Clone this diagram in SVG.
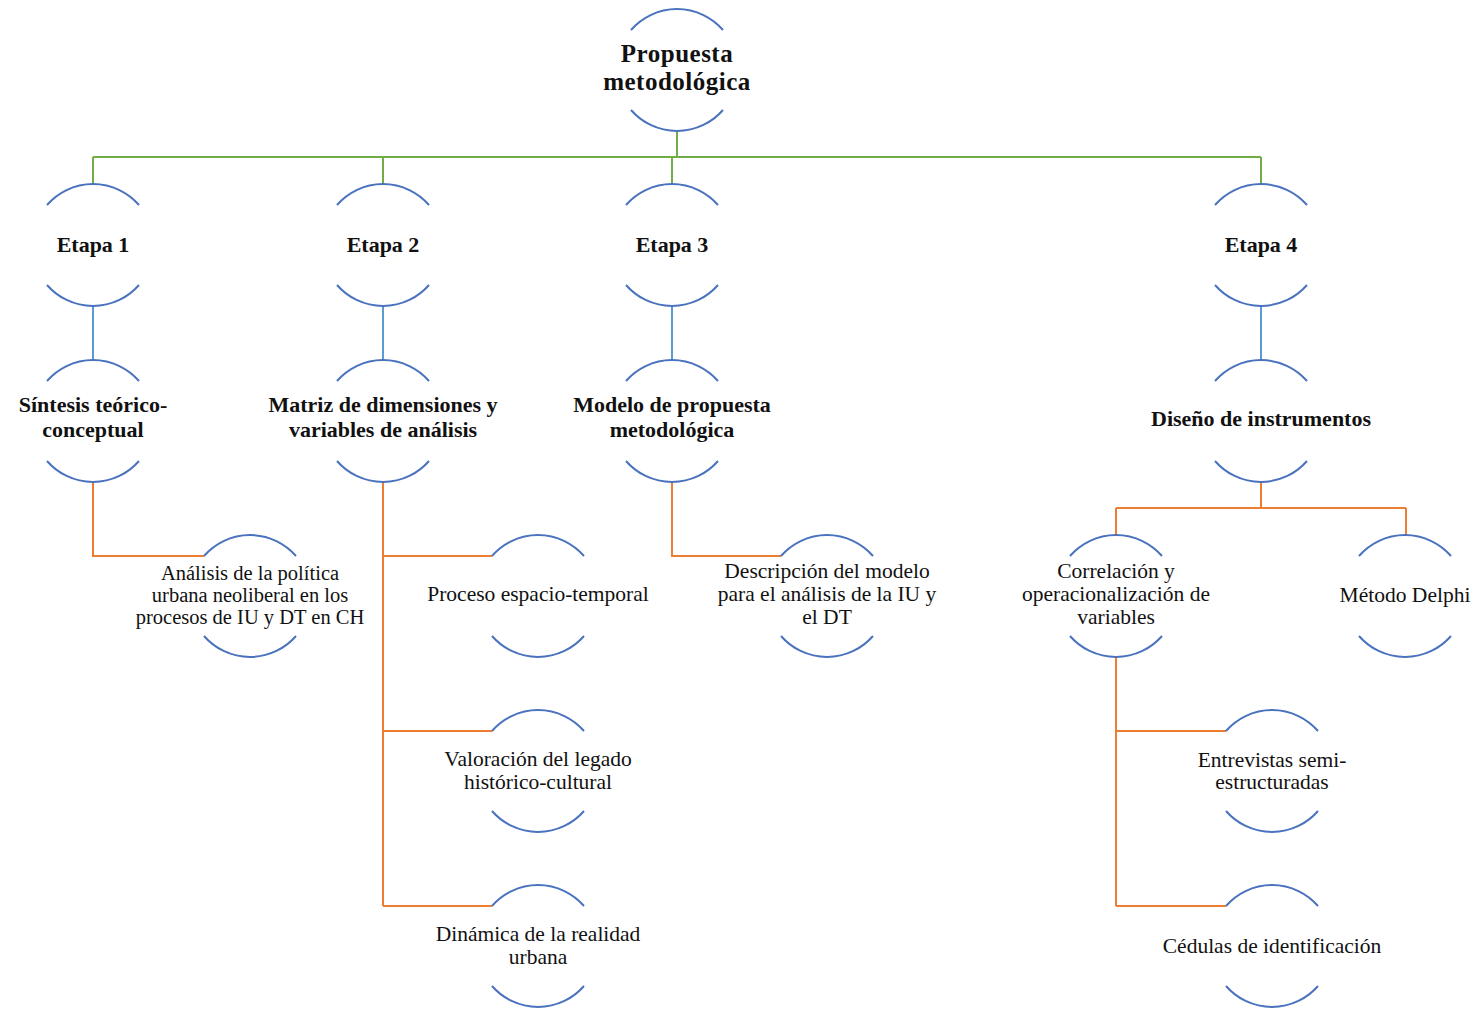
<svg xmlns="http://www.w3.org/2000/svg" width="1479" height="1010" viewBox="0 0 1479 1010">
<style>
.arc{fill:none;stroke:#4A72BE;stroke-width:2}
.green{fill:none;stroke:#70AD47;stroke-width:2}
.blue{fill:none;stroke:#5B9BD5;stroke-width:2}
.orange{fill:none;stroke:#ED7D31;stroke-width:2}
text{font-family:"Liberation Serif","Times New Roman",serif;fill:#111;text-anchor:middle}
.b{font-weight:bold;font-size:22px}
.root{font-weight:bold;font-size:25px;letter-spacing:0.5px}
.r{font-size:21.5px}
.s{font-size:20.5px}
</style>
<defs>
<g id="ring">
<path class="arc" d="M-46,-40 A61,61 0 0 1 46,-40"/>
<path class="arc" d="M-46,40 A61,61 0 0 0 46,40"/>
</g>
</defs>
<rect width="1479" height="1010" fill="#fff"/>
<g id="connectors">
<path class="green" d="M677,131 V157 M93,157 H1261 M93,157 V184 M383,157 V184 M672,157 V184 M1261,157 V184"/>
<path class="blue" d="M93,306 V360 M383,306 V360 M672,306 V360 M1261,306 V360"/>
<path class="orange" d="M93,482 V556 H204"/>
<path class="orange" d="M383,482 V906 M383,556 H492 M383,731 H492 M383,906 H492"/>
<path class="orange" d="M672,482 V556 H781"/>
<path class="orange" d="M1261,482 V508 M1116,508 H1406 M1116,508 V535 M1406,508 V535"/>
<path class="orange" d="M1116,657 V906 M1116,731 H1226 M1116,906 H1226"/>
</g>
<g id="root" transform="translate(677,70)"><use href="#ring"/><text class="root" y="-8">Propuesta</text><text class="root" y="20">metodológica</text></g>
<g id="etapa1" transform="translate(93,245)"><use href="#ring"/><text class="b" y="7">Etapa 1</text></g>
<g id="etapa2" transform="translate(383,245)"><use href="#ring"/><text class="b" y="7">Etapa 2</text></g>
<g id="etapa3" transform="translate(672,245)"><use href="#ring"/><text class="b" y="7">Etapa 3</text></g>
<g id="etapa4" transform="translate(1261,245)"><use href="#ring"/><text class="b" y="7">Etapa 4</text></g>
<g id="sintesis" transform="translate(93,421)"><use href="#ring"/><text class="b" y="-9">Síntesis teórico-</text><text class="b" y="16">conceptual</text></g>
<g id="matriz" transform="translate(383,421)"><use href="#ring"/><text class="b" y="-9">Matriz de dimensiones y</text><text class="b" y="16">variables de análisis</text></g>
<g id="modelo" transform="translate(672,421)"><use href="#ring"/><text class="b" y="-9">Modelo de propuesta</text><text class="b" y="16">metodológica</text></g>
<g id="diseno" transform="translate(1261,421)"><use href="#ring"/><text class="b" y="5">Diseño de instrumentos</text></g>
<g id="analisis" transform="translate(250,596)"><use href="#ring"/><text class="s" y="-16">Análisis de la política</text><text class="s" y="6">urbana neoliberal en los</text><text class="s" y="28">procesos de IU y DT en CH</text></g>
<g id="proceso" transform="translate(538,596)"><use href="#ring"/><text class="r" y="5">Proceso espacio-temporal</text></g>
<g id="descripcion" transform="translate(827,596)"><use href="#ring"/><text class="r" y="-18">Descripción del modelo</text><text class="r" y="5">para el análisis de la IU y</text><text class="r" y="28">el DT</text></g>
<g id="correlacion" transform="translate(1116,596)"><use href="#ring"/><text class="r" y="-18">Correlación y</text><text class="r" y="5">operacionalización de</text><text class="r" y="28">variables</text></g>
<g id="delphi" transform="translate(1405,596)"><use href="#ring"/><text class="r" y="6">Método Delphi</text></g>
<g id="valoracion" transform="translate(538,771)"><use href="#ring"/><text class="r" y="-5">Valoración del legado</text><text class="r" y="18">histórico-cultural</text></g>
<g id="entrevistas" transform="translate(1272,771)"><use href="#ring"/><text class="r" y="-4">Entrevistas semi-</text><text class="r" y="18">estructuradas</text></g>
<g id="dinamica" transform="translate(538,946)"><use href="#ring"/><text class="r" y="-5">Dinámica de la realidad</text><text class="r" y="18">urbana</text></g>
<g id="cedulas" transform="translate(1272,946)"><use href="#ring"/><text class="r" y="7">Cédulas de identificación</text></g>
</svg>
